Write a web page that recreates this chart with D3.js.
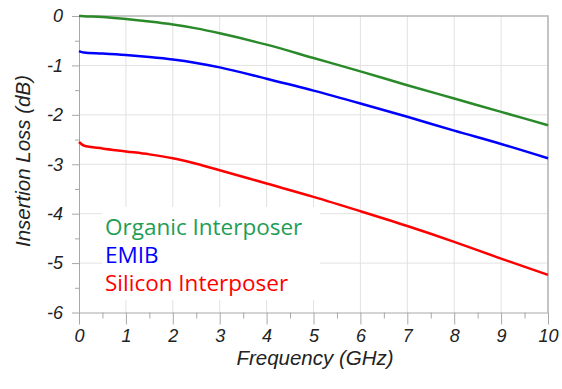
<!DOCTYPE html>
<html>
<head>
<meta charset="utf-8">
<script src="https://cdn.jsdelivr.net/npm/d3@7"></script>
<style>
  body { margin: 0; background: #fff; }
  .axis text { font-family: "Liberation Sans", Arial, sans-serif; font-style: italic; font-size: 18px; fill: #222; }
  .axis path { stroke: #a8a8a8; }
  .axis line { stroke: #a8a8a8; }
</style>
</head>
<body>
<div id="chart"></div>
<script>
const width = 562;
const height = 389;

// frequency points (GHz)
const freq = [0, 0.1, 0.5, 1, 1.5, 2, 2.5, 3, 4, 5, 6, 7, 8, 9, 10];

// insertion loss (dB)
const organic = [0, -0.005, -0.02, -0.06, -0.11, -0.17, -0.25, -0.35, -0.58, -0.85, -1.12, -1.40, -1.67, -1.94, -2.21];
const emib    = [-0.71, -0.74, -0.76, -0.79, -0.83, -0.88, -0.95, -1.04, -1.27, -1.51, -1.77, -2.04, -2.32, -2.59, -2.88];
const silicon = [-2.55, -2.62, -2.68, -2.74, -2.80, -2.88, -2.99, -3.12, -3.39, -3.66, -3.95, -4.25, -4.57, -4.91, -5.24];

const seriesNames = ["Organic Interposer", "EMIB", "Silicon Interposer"];
const lineColors = ["#2a8a2a", "#0000ff", "#ff0000"];
const textColors = ["#1f9d55", "#0000ff", "#ff0000"];

const xTicks = [0, 1, 2, 3, 4, 5, 6, 7, 8, 9, 10];
const yTicks = [0, -1, -2, -3, -4, -5, -6];

const plotLeft = 79, plotRight = 548, plotTop = 16, plotBottom = 312.5;

let svg = d3.select("#chart").append("svg")
    .attr("width", width)
    .attr("height", height);

let xScale = d3.scaleLinear().domain([0, 10]).range([plotLeft, plotRight]);
let yScale = d3.scaleLinear().domain([-6, 0]).range([plotBottom, plotTop]);

// grid
let grid = svg.append("g").attr("stroke", "#e2e2e2").attr("stroke-width", 1);
grid.selectAll(".gx")
    .data(xTicks.slice(1))
    .join("line")
    .attr("class", "gx")
    .attr("x1", d => xScale(d)).attr("x2", d => xScale(d))
    .attr("y1", plotTop).attr("y2", plotBottom);
grid.selectAll(".gy")
    .data(yTicks.slice(1, -1))
    .join("line")
    .attr("class", "gy")
    .attr("x1", plotLeft).attr("x2", plotRight)
    .attr("y1", d => yScale(d)).attr("y2", d => yScale(d));

// frame top/right
svg.append("path")
    .attr("d", `M${plotLeft},${plotTop}H${plotRight}V${plotBottom}`)
    .attr("fill", "none")
    .attr("stroke", "#b4b4b4")
    .attr("stroke-width", 1.5);

// legend background (covers grid)
svg.append("rect")
    .attr("x", 102).attr("y", 207)
    .attr("width", 218).attr("height", 93)
    .attr("fill", "#fff");

// minor ticks
svg.append("g")
    .attr("class", "axis")
    .attr("transform", `translate(0,${plotBottom})`)
    .call(d3.axisBottom(xScale).tickValues(d3.range(0.5, 10, 1)).tickSize(6).tickFormat(""))
    .call(g => g.select(".domain").remove());
svg.append("g")
    .attr("class", "axis")
    .attr("transform", `translate(${plotLeft},0)`)
    .call(d3.axisLeft(yScale).tickValues(d3.range(-5.5, 0, 1)).tickSize(4).tickFormat(""))
    .call(g => g.select(".domain").remove());

// major axes
svg.append("g")
    .attr("class", "axis")
    .attr("transform", `translate(0,${plotBottom})`)
    .call(d3.axisBottom(xScale).tickValues(xTicks).tickSize(12).tickSizeOuter(0).tickPadding(5).tickFormat(d => String(d)));
svg.append("g")
    .attr("class", "axis")
    .attr("transform", `translate(${plotLeft},0)`)
    .call(d3.axisLeft(yScale).tickValues(yTicks).tickSize(7).tickSizeOuter(0).tickPadding(9).tickFormat(d => String(d)));

// axis titles
svg.append("text")
    .attr("x", 315).attr("y", 365)
    .attr("text-anchor", "middle")
    .style("font-family", "'Liberation Sans', Arial, sans-serif")
    .style("font-style", "italic")
    .style("font-size", "20.5px")
    .attr("fill", "#222")
    .text("Frequency (GHz)");
svg.append("text")
    .attr("transform", "translate(30,161) rotate(-90)")
    .attr("text-anchor", "middle")
    .style("font-family", "'Liberation Sans', Arial, sans-serif")
    .style("font-style", "italic")
    .style("font-size", "20.5px")
    .attr("fill", "#222")
    .text("Insertion Loss (dB)");

// lines
let line = d3.line()
    .x(d => xScale(d[0]))
    .y(d => yScale(d[1]))
    .curve(d3.curveMonotoneX);

[organic, emib, silicon].forEach((vals, i) => {
    svg.append("path")
        .datum(freq.map((f, j) => [f, vals[j]]))
        .attr("fill", "none")
        .attr("stroke", lineColors[i])
        .attr("stroke-width", 2.5)
        .attr("d", line);
});

// legend
svg.selectAll(".legend")
    .data(seriesNames)
    .join("text")
    .attr("class", "legend")
    .attr("x", 105)
    .attr("y", (d, i) => 235 + i * 28)
    .style("font-family", "'Open Sans', sans-serif")
    .style("font-size", "22.5px")
    .attr("fill", (d, i) => textColors[i])
    .text(d => d);
</script>
</body>
</html>
